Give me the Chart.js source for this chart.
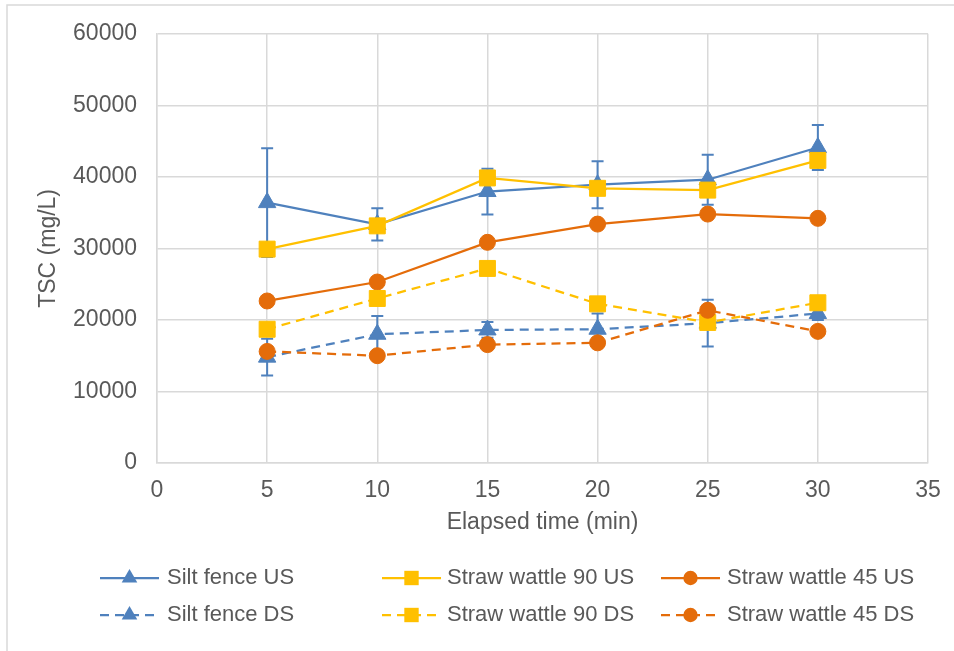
<!DOCTYPE html>
<html>
<head>
<meta charset="utf-8">
<script src="https://cdn.jsdelivr.net/npm/chart.js@4/dist/chart.umd.min.js"></script>
<style>
  html, body { margin: 0; padding: 0; background: #ffffff; }
  canvas { display: block; }
</style>
</head>
<body>
<canvas id="c" width="954" height="651"></canvas>
<script>
// ---- data ----
const elapsedTime = [5, 10, 15, 20, 25, 30];
const siltFenceUS = [36400, 33350, 37950, 38900, 39600, 44100];
const siltFenceUSErr = [7600, 2250, 3200, 3300, 3500, 3150];
const strawWattle90US = [29900, 33150, 39850, 38400, 38150, 42300];
const strawWattle45US = [22650, 25300, 30850, 33400, 34800, 34200];
const siltFenceDS = [14800, 18000, 18600, 18700, 19550, 20900];
const siltFenceDSErr = [2570, 2560, 1100, 2200, 3260, 900];
const strawWattle90DS = [18700, 23000, 27200, 22250, 19650, 22400];
const strawWattle45DS = [15600, 15000, 16550, 16800, 21350, 18400];
const seriesLabels = ['Silt fence US', 'Straw wattle 90 US', 'Straw wattle 45 US',
                      'Silt fence DS', 'Straw wattle 90 DS', 'Straw wattle 45 DS'];
const xTicks = [0, 5, 10, 15, 20, 25, 30, 35];
const yTicks = [0, 10000, 20000, 30000, 40000, 50000, 60000];

// ---- styles ----
const BLUE = '#4F81BD', GOLD = '#FFC000', ORANGE = '#E46C0A';
const TEXT = '#595959', GRID = '#D9D9D9';
const FONT = "'Liberation Sans', Arial, sans-serif";

function pts(vals) { return elapsedTime.map((t, i) => ({ x: t, y: vals[i] })); }

const seriesDefs = [
  { vals: siltFenceUS, color: BLUE, style: 'triangle', r: 10, dash: [], err: siltFenceUSErr },
  { vals: strawWattle90US, color: GOLD, style: 'rect', r: 11.3, dash: [], err: null },
  { vals: strawWattle45US, color: ORANGE, style: 'circle', r: 8, dash: [], err: null },
  { vals: siltFenceDS, color: BLUE, style: 'triangle', r: 10, dash: [9, 6], err: siltFenceDSErr },
  { vals: strawWattle90DS, color: GOLD, style: 'rect', r: 11.3, dash: [9, 6], err: null },
  { vals: strawWattle45DS, color: ORANGE, style: 'circle', r: 8, dash: [9, 6], err: null }
];

const datasets = seriesDefs.map((s, i) => ({
  label: seriesLabels[i],
  data: pts(s.vals),
  borderColor: s.color,
  backgroundColor: s.color,
  borderWidth: 2.25,
  borderDash: s.dash,
  pointStyle: s.style,
  pointRadius: s.r,
  pointBackgroundColor: s.color,
  pointBorderColor: s.color,
  pointBorderWidth: 1,
  tension: 0,
  order: seriesDefs.length - i,
  clip: false
}));

// error bars drawn right before their own dataset
const errorBarPlugin = {
  id: 'errorBars',
  beforeDatasetDraw(chart, args) {
    const s = seriesDefs[args.index];
    if (!s || !s.err) return;
    const xs = chart.scales.x, ys = chart.scales.y, ctx = chart.ctx;
    ctx.save();
    ctx.strokeStyle = s.color;
    ctx.lineWidth = 2;
    ctx.setLineDash([]);
    elapsedTime.forEach((t, i) => {
      const px = xs.getPixelForValue(t);
      const top = ys.getPixelForValue(s.vals[i] + s.err[i]);
      const bot = ys.getPixelForValue(s.vals[i] - s.err[i]);
      ctx.beginPath();
      ctx.moveTo(px, top); ctx.lineTo(px, bot);
      ctx.moveTo(px - 6, top); ctx.lineTo(px + 6, top);
      ctx.moveTo(px - 6, bot); ctx.lineTo(px + 6, bot);
      ctx.stroke();
    });
    ctx.restore();
  }
};

function drawMarker(ctx, style, r, x, y, color) {
  ctx.fillStyle = color;
  ctx.beginPath();
  if (style === 'triangle') {
    ctx.moveTo(x, y - r);
    ctx.lineTo(x + r * Math.sin(2 * Math.PI / 3), y - r * Math.cos(2 * Math.PI / 3));
    ctx.lineTo(x + r * Math.sin(4 * Math.PI / 3), y - r * Math.cos(4 * Math.PI / 3));
    ctx.closePath();
  } else if (style === 'rect') {
    const h = r * Math.SQRT1_2;
    ctx.rect(x - h, y - h, 2 * h, 2 * h);
  } else {
    ctx.arc(x, y, r, 0, Math.PI * 2);
  }
  ctx.fill();
}

const legendPlugin = {
  id: 'customLegend',
  afterDraw(chart) {
    const ctx = chart.ctx;
    const colLineX = [100, 382, 661];
    const colTextX = [167, 447, 727];
    const rowY = [578, 615];
    ctx.save();
    seriesDefs.forEach((s, i) => {
      const col = i % 3, row = Math.floor(i / 3);
      const x0 = colLineX[col], y = rowY[row];
      ctx.strokeStyle = s.color;
      ctx.lineWidth = 2.25;
      ctx.setLineDash(s.dash.length ? [9, 6] : []);
      ctx.beginPath();
      ctx.moveTo(x0, y); ctx.lineTo(x0 + 59, y);
      ctx.stroke();
      ctx.setLineDash([]);
      drawMarker(ctx, s.style, s.r * 0.9, x0 + 29.5, y, s.color);
      ctx.fillStyle = TEXT;
      ctx.font = '22px ' + FONT;
      ctx.textAlign = 'left';
      ctx.textBaseline = 'middle';
      ctx.fillText(seriesLabels[i], colTextX[col], y);
    });
    ctx.restore();
  }
};

const framePlugin = {
  id: 'frame',
  beforeDraw(chart) {
    const ctx = chart.ctx;
    ctx.save();
    ctx.fillStyle = '#ffffff';
    ctx.fillRect(0, 0, chart.width, chart.height);
    ctx.strokeStyle = GRID;
    ctx.lineWidth = 1.5;
    ctx.beginPath();
    ctx.moveTo(7, chart.height + 5); ctx.lineTo(7, 5); ctx.lineTo(chart.width + 5, 5);
    ctx.stroke();
    ctx.restore();
  }
};

new Chart(document.getElementById('c'), {
  type: 'line',
  data: { datasets },
  plugins: [framePlugin, errorBarPlugin, legendPlugin],
  options: {
    responsive: false,
    devicePixelRatio: 1,
    animation: false,
    layout: { padding: { left: 7, top: 31, right: 26, bottom: 108 } },
    plugins: { legend: { display: false }, tooltip: { enabled: false } },
    scales: {
      x: {
        type: 'linear',
        min: xTicks[0], max: xTicks[xTicks.length - 1],
        afterFit(scale) { scale.height = 80; scale.paddingRight = 0; scale.paddingLeft = 0; },
        afterBuildTicks(scale) { scale.ticks = xTicks.map(v => ({ value: v })); },
        ticks: { color: TEXT, font: { family: FONT, size: 23 }, padding: 14,
                 callback: v => String(v), maxRotation: 0 },
        grid: { color: GRID, lineWidth: 1.5, drawTicks: false },
        border: { color: GRID, width: 1.5 },
        title: { display: true, text: 'Elapsed time (min)', color: TEXT,
                 font: { family: FONT, size: 23 }, padding: { top: 0, bottom: 7 } }
      },
      y: {
        min: yTicks[0], max: yTicks[yTicks.length - 1],
        afterFit(scale) { scale.width = 150; },
        afterBuildTicks(scale) { scale.ticks = yTicks.map(v => ({ value: v })); },
        ticks: { color: TEXT, font: { family: FONT, size: 23 }, padding: 20,
                 callback: v => String(v) },
        grid: { color: GRID, lineWidth: 1.5, drawTicks: false },
        border: { color: GRID, width: 1.5 },
        title: { display: true, text: 'TSC (mg/L)', color: TEXT,
                 font: { family: FONT, size: 23 }, padding: { top: 28, bottom: 0 } }
      }
    }
  }
});
</script>
</body>
</html>
